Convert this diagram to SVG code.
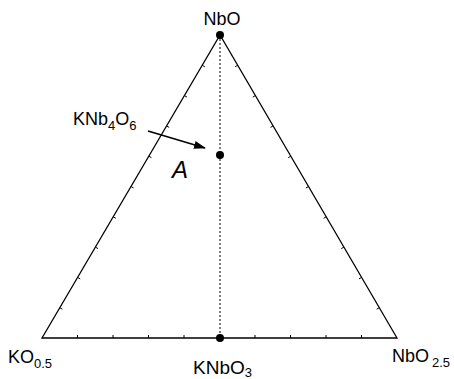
<svg xmlns="http://www.w3.org/2000/svg" width="454" height="379" viewBox="0 0 454 379">
<style>
text{font-family:"Liberation Sans",Arial,sans-serif;fill:#000}
.lbl{font-size:18px}
.sub{font-size:13px}
.edge{stroke:#000;stroke-width:1.3;fill:none}
.tick{stroke:#000;stroke-width:1;fill:none}
.dot{fill:#000}
</style>
<defs>
<marker id="ah" markerWidth="12" markerHeight="8" refX="11" refY="4" orient="auto" markerUnits="userSpaceOnUse">
<path d="M0,0 L12,4 L0,8 Z" fill="#000"/>
</marker>
</defs>
<g id="connectors">
<path class="edge" d="M42,338 L220,35 L397,338 Z"/>
<path class="tick" d="M59.8,307.7 l2.6,1.5 M77.6,277.4 l2.6,1.5 M95.4,247.1 l2.6,1.5 M113.2,216.8 l2.6,1.5 M131,186.5 l2.6,1.5 M148.8,156.2 l2.6,1.5 M166.6,125.9 l2.6,1.5 M184.4,95.6 l2.6,1.5 M202.2,65.3 l2.6,1.5
M379.3,307.7 l-2.6,1.5 M361.6,277.4 l-2.6,1.5 M343.9,247.1 l-2.6,1.5 M326.2,216.8 l-2.6,1.5 M308.5,186.5 l-2.6,1.5 M290.8,156.2 l-2.6,1.5 M273.1,125.9 l-2.6,1.5 M255.4,95.6 l-2.6,1.5 M237.7,65.3 l-2.6,1.5
M77.5,338 v-3 M113,338 v-3 M148.5,338 v-3 M184,338 v-3 M255,338 v-3 M290.5,338 v-3 M326,338 v-3 M361.5,338 v-3"/>
<line x1="220" y1="35" x2="220" y2="338" stroke="#000" stroke-width="1" stroke-dasharray="2 2"/>
<line x1="148" y1="131" x2="205" y2="148" stroke="#000" stroke-width="1.6" marker-end="url(#ah)"/>
</g>
<g id="NbO">
<circle class="dot" cx="220" cy="35" r="4"/>
<text class="lbl" x="222" y="25" text-anchor="middle">NbO</text>
</g>
<g id="KO05">
<text class="lbl" x="8" y="363">KO<tspan class="sub" dy="5">0.5</tspan></text>
</g>
<g id="NbO25">
<text class="lbl" x="392" y="362">NbO<tspan class="sub" dx="3" dy="5">2.5</tspan></text>
</g>
<g id="KNbO3">
<circle class="dot" cx="220" cy="338" r="4"/>
<text x="193" y="374" font-size="19">KNbO<tspan class="sub" dy="3">3</tspan></text>
</g>
<g id="KNb4O6">
<circle class="dot" cx="220" cy="155" r="4"/>
<text class="lbl" x="73" y="125">KNb<tspan class="sub" dy="5">4</tspan><tspan dy="-5">O</tspan><tspan class="sub" dy="5">6</tspan></text>
<text x="172" y="178" font-size="24" font-style="italic">A</text>
</g>
</svg>
